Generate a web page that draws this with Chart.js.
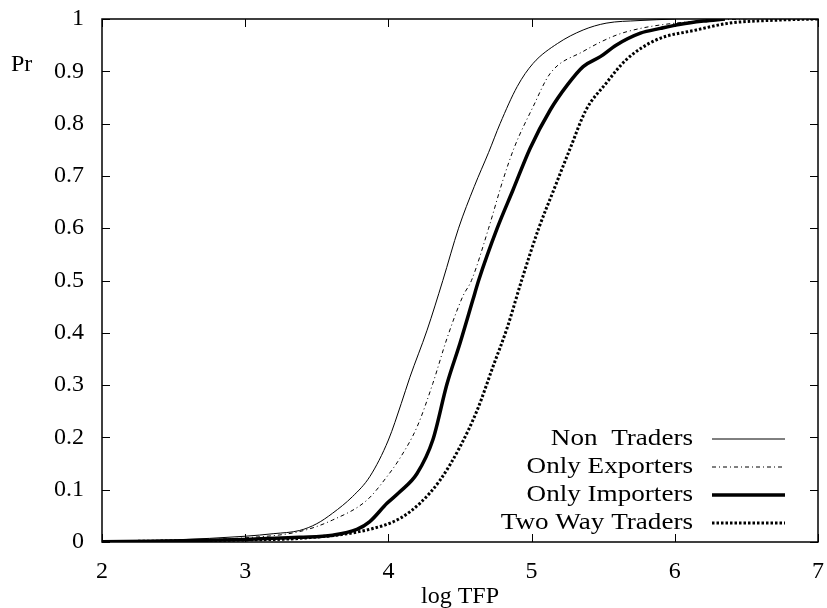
<!DOCTYPE html>
<html>
<head>
<meta charset="utf-8">
<script src="https://cdn.jsdelivr.net/npm/chart.js@4"></script>
<style>
  html, body { margin: 0; padding: 0; background: #fff; }
  #wrap { width: 827px; height: 608px; }
</style>
</head>
<body>
<div id="wrap"><canvas id="cdf" width="827" height="608"></canvas></div>
<script>
const nonX = [2.0, 2.5, 3.0, 3.2, 3.38, 3.5, 3.61, 3.75, 3.87, 4.0, 4.09, 4.15, 4.27, 4.38, 4.49, 4.6, 4.7, 4.78, 4.9, 5.01, 5.18, 5.36, 5.52, 5.75, 6.0];
const nonY = [0.001, 0.004, 0.011, 0.016, 0.022, 0.035, 0.055, 0.087, 0.125, 0.195, 0.265, 0.315, 0.405, 0.5, 0.6, 0.68, 0.745, 0.8, 0.871, 0.915, 0.953, 0.979, 0.992, 0.997, 1.0];

const expX = [2.0, 2.5, 3.0, 3.38, 3.61, 3.85, 3.99, 4.08, 4.2, 4.31, 4.41, 4.52, 4.58, 4.7, 4.8, 4.88, 5.01, 5.13, 5.36, 5.59, 5.76, 6.0, 6.3, 6.5];
const expY = [0.001, 0.003, 0.008, 0.02, 0.042, 0.08, 0.125, 0.16, 0.22, 0.303, 0.39, 0.47, 0.5, 0.6, 0.692, 0.755, 0.832, 0.896, 0.938, 0.969, 0.982, 0.992, 0.998, 1.0];

const impX = [2.0, 2.5, 3.0, 3.38, 3.61, 3.78, 3.87, 3.99, 4.08, 4.2, 4.31, 4.41, 4.5, 4.59, 4.63, 4.76, 4.87, 4.99, 5.13, 5.25, 5.36, 5.48, 5.59, 5.76, 5.9, 6.04, 6.2, 6.35];
const impY = [0.0005, 0.002, 0.005, 0.009, 0.013, 0.024, 0.039, 0.074, 0.096, 0.131, 0.195, 0.303, 0.38, 0.463, 0.5, 0.6, 0.673, 0.753, 0.826, 0.874, 0.909, 0.928, 0.95, 0.973, 0.982, 0.99, 0.996, 1.0];

const twoX = [2.0, 2.5, 3.0, 3.38, 3.85, 4.08, 4.22, 4.36, 4.5, 4.62, 4.73, 4.83, 4.93, 5.05, 5.15, 5.27, 5.38, 5.52, 5.66, 5.87, 6.15, 6.38, 6.73, 7.0];
const twoY = [0.0005, 0.002, 0.004, 0.007, 0.023, 0.045, 0.074, 0.118, 0.182, 0.252, 0.335, 0.41, 0.5, 0.6, 0.67, 0.753, 0.826, 0.877, 0.922, 0.96, 0.979, 0.992, 0.998, 1.0];

const labels = ['Non  Traders', 'Only Exporters', 'Only Importers', 'Two Way Traders'];
const xTicks = [2, 3, 4, 5, 6, 7];
const yTicks = [0, 0.1, 0.2, 0.3, 0.4, 0.5, 0.6, 0.7, 0.8, 0.9, 1];

const FONT = 'Liberation Serif, Times New Roman, serif';
const FSIZE = 24;

function pts(xs, ys) {
    return xs.map((x, i) => ({ x: x, y: ys[i] }));
}

// box, inward ticks on all sides, Pr / log TFP labels and gnuplot style key
const gnuplotFrame = {
    id: 'gnuplotFrame',
    afterDraw(chart) {
        const ctx = chart.ctx;
        const a = chart.chartArea;
        const xs = chart.scales.x, ys = chart.scales.y;
        ctx.save();
        ctx.strokeStyle = '#000';
        ctx.lineWidth = 1.5;
        ctx.strokeRect(a.left, a.top, a.right - a.left, a.bottom - a.top);
        ctx.lineWidth = 1;
        ctx.beginPath();
        xTicks.forEach(v => {
            const px = Math.round(xs.getPixelForValue(v)) + 0.5;
            ctx.moveTo(px, a.bottom); ctx.lineTo(px, a.bottom - 8);
            ctx.moveTo(px, a.top); ctx.lineTo(px, a.top + 8);
        });
        yTicks.forEach(v => {
            const py = Math.round(ys.getPixelForValue(v)) + 0.5;
            ctx.moveTo(a.left, py); ctx.lineTo(a.left + 8, py);
            ctx.moveTo(a.right, py); ctx.lineTo(a.right - 8, py);
        });
        ctx.stroke();

        ctx.fillStyle = '#000';
        ctx.font = FSIZE + 'px ' + FONT;
        ctx.textAlign = 'left';
        ctx.textBaseline = 'middle';
        ctx.fillText('Pr', 11, 65);
        ctx.textAlign = 'center';
        ctx.fillText('log TFP', (a.left + a.right) / 2, 597);

        // key, bottom right (gnuplot's key text runs a bit wider)
        ctx.textAlign = 'right';
        chart.data.datasets.forEach((ds, i) => {
            const y = 439 + i * 28;
            ctx.save();
            ctx.translate(693, y);
            ctx.scale(1.13, 1);
            ctx.fillText(ds.label, 0, 0);
            ctx.restore();
            ctx.strokeStyle = ds.borderColor;
            ctx.lineWidth = ds.borderWidth;
            ctx.setLineDash(ds.borderDash || []);
            ctx.beginPath();
            ctx.moveTo(712, y);
            ctx.lineTo(785, y);
            ctx.stroke();
        });
        ctx.restore();
    }
};

const ctx = document.getElementById('cdf').getContext('2d');
const cdfChart = new Chart(ctx, {
    type: 'line',
    data: {
        datasets: [
            { label: labels[0], data: pts(nonX, nonY), borderColor: '#000', borderWidth: 1, borderDash: [] },
            { label: labels[1], data: pts(expX, expY), borderColor: '#000', borderWidth: 1, borderDash: [4, 3, 1, 3] },
            { label: labels[2], data: pts(impX, impY), borderColor: '#000', borderWidth: 3.5, borderDash: [] },
            { label: labels[3], data: pts(twoX, twoY), borderColor: '#000', borderWidth: 3, borderDash: [2.5, 2] }
        ]
    },
    options: {
        responsive: false,
        animation: false,
        layout: { padding: { left: 0, right: 9, top: 19, bottom: 0 } },
        elements: {
            point: { radius: 0 },
            line: { cubicInterpolationMode: 'monotone', fill: false }
        },
        scales: {
            x: {
                type: 'linear',
                min: 2, max: 7,
                afterFit: s => { s.height = 66; s.paddingLeft = 0; s.paddingRight = 0; },
                afterBuildTicks: s => { s.ticks = xTicks.map(v => ({ value: v })); },
                grid: { display: false, drawTicks: false },
                border: { display: false },
                ticks: { padding: 15, color: '#000', font: { family: FONT, size: FSIZE } }
            },
            y: {
                min: 0, max: 1,
                afterFit: s => { s.width = 102; s.paddingTop = 0; s.paddingBottom = 0; },
                afterBuildTicks: s => { s.ticks = yTicks.map(v => ({ value: v })); },
                grid: { display: false, drawTicks: false },
                border: { display: false },
                ticks: {
                    padding: 18, color: '#000', font: { family: FONT, size: FSIZE },
                    callback: v => String(Math.round(v * 10) / 10)
                }
            }
        },
        plugins: {
            legend: { display: false },
            tooltip: { enabled: false }
        }
    },
    plugins: [gnuplotFrame]
});
</script>
</body>
</html>
